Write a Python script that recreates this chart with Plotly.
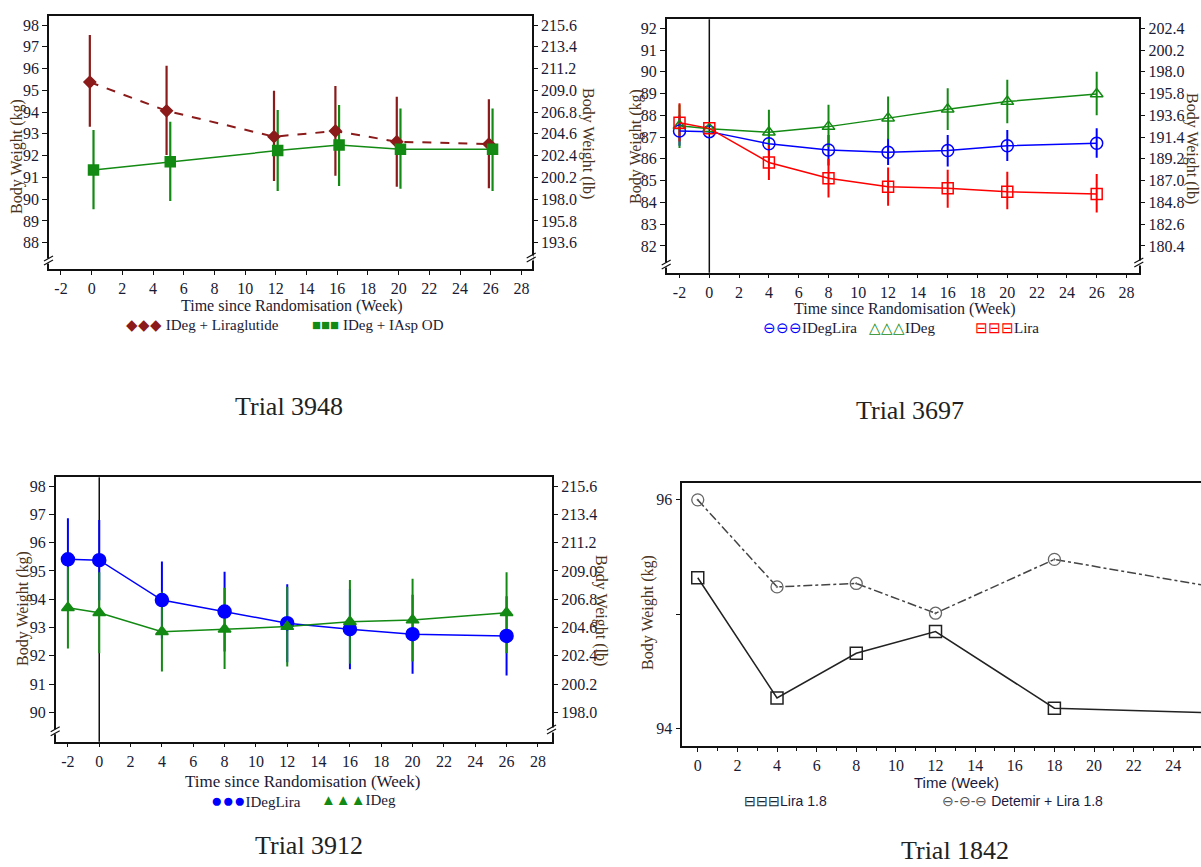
import plotly.graph_objects as go

W, H = 1201, 867

# ---------------- data ----------------
# Trial 3948
t1_weeks = [0, 5, 12, 16, 20, 26]
t1_lira_mean = [95.38, 94.06, 92.87, 93.13, 92.64, 92.53]
t1_lira_lo = [93.33, 92.03, 90.83, 91.08, 90.57, 90.50]
t1_lira_hi = [97.54, 96.13, 94.98, 95.20, 94.71, 94.59]
t1_iasp_mean = [91.34, 91.72, 92.23, 92.49, 92.29, 92.29]
t1_iasp_lo = [89.53, 89.92, 90.38, 90.60, 90.48, 90.38]
t1_iasp_hi = [93.18, 93.56, 94.10, 94.33, 94.17, 94.17]

# Trial 3697
t2_weeks = [-2, 0, 4, 8, 12, 16, 20, 26]
t2_idegl_mean = [87.28, 87.25, 86.69, 86.41, 86.30, 86.38, 86.60, 86.72]
t2_idegl_lo = [86.60, 87.25, 85.95, 85.70, 85.72, 85.65, 85.90, 86.05]
t2_idegl_hi = [88.00, 87.25, 87.40, 87.10, 86.95, 87.10, 87.33, 87.40]
t2_ideg_mean = [87.52, 87.38, 87.22, 87.48, 87.87, 88.28, 88.63, 88.98]
t2_ideg_lo = [86.50, 87.38, 86.30, 86.55, 86.90, 87.33, 87.64, 88.00]
t2_ideg_hi = [88.50, 87.38, 88.25, 88.48, 88.86, 89.24, 89.63, 90.00]
t2_lira_mean = [87.66, 87.40, 85.83, 85.11, 84.72, 84.65, 84.49, 84.39]
t2_lira_lo = [86.80, 87.40, 85.03, 84.22, 83.84, 83.75, 83.69, 83.53]
t2_lira_hi = [88.55, 87.40, 86.63, 86.00, 85.60, 85.50, 85.41, 85.30]

# Trial 3912
t3_weeks = [-2, 0, 4, 8, 12, 16, 20, 26]
t3_idegl_mean = [95.41, 95.38, 93.97, 93.56, 93.15, 92.94, 92.76, 92.70]
t3_idegl_lo = [93.96, 93.96, 92.61, 92.15, 91.77, 91.52, 91.36, 91.30]
t3_idegl_hi = [96.86, 96.80, 95.33, 94.97, 94.53, 94.36, 94.16, 94.10]
t3_ideg_mean = [93.70, 93.52, 92.85, 92.94, 93.03, 93.20, 93.26, 93.52]
t3_ideg_lo = [92.26, 92.09, 91.44, 91.53, 91.62, 91.72, 91.80, 92.09]
t3_ideg_hi = [95.14, 94.95, 94.26, 94.40, 94.44, 94.68, 94.72, 94.95]

# Trial 1842
t4_weeks = [0, 4, 8, 12, 18, 26]
t4_lira_mean = [95.32, 94.27, 94.66, 94.85, 94.18, 94.14]
t4_det_mean = [96.00, 95.24, 95.27, 95.01, 95.48, 95.24]

# tick labels
wk_ticks = [-2, 0, 2, 4, 6, 8, 10, 12, 14, 16, 18, 20, 22, 24, 26, 28]
wk_ticks4 = [0, 2, 4, 6, 8, 10, 12, 14, 16, 18, 20, 22, 24, 26]
kg_ticks1 = [88, 89, 90, 91, 92, 93, 94, 95, 96, 97, 98]
lb_ticks1 = ["193.6", "195.8", "198.0", "200.2", "202.4", "204.6", "206.8", "209.0", "211.2", "213.4", "215.6"]
kg_ticks2 = [82, 83, 84, 85, 86, 87, 88, 89, 90, 91, 92]
lb_ticks2 = ["180.4", "182.6", "184.8", "187.0", "189.2", "191.4", "193.6", "195.8", "198.0", "200.2", "202.4"]
kg_ticks3 = [90, 91, 92, 93, 94, 95, 96, 97, 98]
lb_ticks3 = ["198.0", "200.2", "202.4", "204.6", "206.8", "209.0", "211.2", "213.4", "215.6"]
kg_ticks4 = [94, 95, 96]
kg_labels4 = ["94", "", "96"]
KG_TO_LB = 2.2

# ---------------- style ----------------
SERIF = "Liberation Serif"
SANS = "Liberation Sans, Arial"
TICKC = "#1a1a33"
TITLEC = "#4a3320"
AXC = "#111111"
DARKRED = "#8B1A1A"
GREEN = "#138A13"
BLUE = "#0000FF"
RED = "#FF0000"


def px(x):
    return x / W


def py(y):
    return 1 - y / H


fig = go.Figure()


def err_trace(x, mean, lo, hi, color, width, xa, ya):
    return go.Scatter(
        x=x, y=mean, mode="markers",
        marker=dict(size=1, color="rgba(0,0,0,0)"),
        error_y=dict(type="data", symmetric=False,
                     array=[h - m for h, m in zip(hi, mean)],
                     arrayminus=[m - l for m, l in zip(mean, lo)],
                     color=color, thickness=width, width=0),
        xaxis=xa, yaxis=ya, showlegend=False, hoverinfo="skip")


def line_trace(x, y, color, symbol, size, xa, ya, dash="solid", lw=1.5, mlw=1.5, mcolor=None):
    return go.Scatter(
        x=x, y=y, mode="lines+markers",
        line=dict(color=color, width=lw, dash=dash),
        marker=dict(symbol=symbol, size=size, color=mcolor or color,
                    line=dict(color=mcolor or color, width=mlw)),
        xaxis=xa, yaxis=ya, showlegend=False)


# Panel 1
dodge = 0.12
x1r = [w - dodge for w in t1_weeks]
x1g = [w + dodge for w in t1_weeks]
fig.add_trace(err_trace(x1r, t1_lira_mean, t1_lira_lo, t1_lira_hi, DARKRED, 2.2, "x", "y"))
fig.add_trace(err_trace(x1g, t1_iasp_mean, t1_iasp_lo, t1_iasp_hi, GREEN, 2.2, "x", "y"))
fig.add_trace(line_trace(x1r, t1_lira_mean, DARKRED, "diamond", 9, "x", "y", dash="dash", lw=2))
fig.add_trace(line_trace(x1g, t1_iasp_mean, GREEN, "square", 10, "x", "y", lw=1.5))
fig.add_trace(go.Scatter(x=[None], y=[None], xaxis="x", yaxis="y2", showlegend=False))

# Panel 2
fig.add_trace(err_trace(t2_weeks, t2_idegl_mean, t2_idegl_lo, t2_idegl_hi, BLUE, 2, "x2", "y3"))
fig.add_trace(err_trace(t2_weeks, t2_ideg_mean, t2_ideg_lo, t2_ideg_hi, GREEN, 2, "x2", "y3"))
fig.add_trace(err_trace(t2_weeks, t2_lira_mean, t2_lira_lo, t2_lira_hi, RED, 2, "x2", "y3"))
fig.add_trace(line_trace(t2_weeks, t2_idegl_mean, BLUE, "circle-open", 12, "x2", "y3"))
fig.add_trace(line_trace(t2_weeks, t2_ideg_mean, GREEN, "triangle-up-open", 11, "x2", "y3"))
fig.add_trace(line_trace(t2_weeks, t2_lira_mean, RED, "square-open", 11, "x2", "y3"))
fig.add_trace(go.Scatter(x=[None], y=[None], xaxis="x2", yaxis="y4", showlegend=False))

# Panel 3
fig.add_trace(err_trace(t3_weeks, t3_idegl_mean, t3_idegl_lo, t3_idegl_hi, BLUE, 2, "x3", "y5"))
fig.add_trace(err_trace(t3_weeks, t3_ideg_mean, t3_ideg_lo, t3_ideg_hi, GREEN, 2, "x3", "y5"))
fig.add_trace(line_trace(t3_weeks, t3_idegl_mean, BLUE, "circle", 13, "x3", "y5"))
fig.add_trace(line_trace(t3_weeks, t3_ideg_mean, GREEN, "triangle-up", 11, "x3", "y5"))
fig.add_trace(go.Scatter(x=[None], y=[None], xaxis="x3", yaxis="y6", showlegend=False))

# Panel 4
fig.add_trace(line_trace(t4_weeks, t4_lira_mean, "#222222", "square-open", 12, "x4", "y7"))
fig.add_trace(line_trace(t4_weeks, t4_det_mean, "#444444", "circle-open-dot", 12, "x4", "y7",
                         dash="dashdot", mcolor="#666666", mlw=1.3))

# ---------------- axes ----------------
tickfont = dict(family=SERIF, size=16, color=TICKC)


def xax(domain, rng, tickvals, anchor):
    return dict(domain=domain, range=rng, anchor=anchor, tickmode="array", tickvals=tickvals,
                ticktext=[str(t) for t in tickvals], showline=True, mirror=True, linecolor=AXC,
                linewidth=1.5, ticks="outside", ticklen=4, tickwidth=1.2, tickcolor=AXC,
                showgrid=False, zeroline=False, tickfont=tickfont, automargin=False)


def yax(domain, rng, tickvals, anchor, ticktext=None):
    return dict(domain=domain, range=rng, anchor=anchor, tickmode="array", tickvals=tickvals,
                ticktext=ticktext or [str(t) for t in tickvals], showline=True, mirror=True,
                linecolor=AXC, linewidth=1.5, ticks="outside", ticklen=5, tickwidth=1.2,
                tickcolor=AXC, showgrid=False, zeroline=False, tickfont=tickfont, automargin=False)


def yax_lb(rng_kg, lb_labels, overlay, anchor):
    vals = [float(s) for s in lb_labels]
    return dict(range=[rng_kg[0] * KG_TO_LB, rng_kg[1] * KG_TO_LB], overlaying=overlay, side="right",
                anchor=anchor, tickmode="array", tickvals=vals, ticktext=lb_labels,
                showline=False, ticks="outside", ticklen=5, tickwidth=1.2, tickcolor=AXC,
                showgrid=False, zeroline=False, tickfont=tickfont, automargin=False)


P1 = dict(l=49, r=531.7, t=15.7, b=269, xr=[-2.78, 28.67], yr=[86.79, 98.43])
P2 = dict(l=666.7, r=1139.3, t=19.3, b=272.7, xr=[-2.86, 28.86], yr=[80.77, 92.41])
P3 = dict(l=55.7, r=552, t=477.3, b=741.7, xr=[-2.78, 28.9], yr=[88.96, 98.31])
P4 = dict(l=682.3, r=1201, t=482.7, b=746, xr=[-0.78, 25.4], yr=[93.85, 96.15])


def dx(P):
    return [px(P["l"]), min(1.0, px(P["r"]))]


def dy(P):
    return [py(P["b"]), py(P["t"])]


layout = dict(
    width=W, height=H, autosize=False,
    margin=dict(l=0, r=0, t=0, b=0),
    paper_bgcolor="white", plot_bgcolor="white", showlegend=False,
    xaxis=xax(dx(P1), P1["xr"], wk_ticks, "y"),
    yaxis=yax(dy(P1), P1["yr"], kg_ticks1, "x"),
    yaxis2=yax_lb(P1["yr"], lb_ticks1, "y", "x"),
    xaxis2=xax(dx(P2), P2["xr"], wk_ticks, "y3"),
    yaxis3=yax(dy(P2), P2["yr"], kg_ticks2, "x2"),
    yaxis4=yax_lb(P2["yr"], lb_ticks2, "y3", "x2"),
    xaxis3=xax(dx(P3), P3["xr"], wk_ticks, "y5"),
    yaxis5=yax(dy(P3), P3["yr"], kg_ticks3, "x3"),
    yaxis6=yax_lb(P3["yr"], lb_ticks3, "y5", "x3"),
    xaxis4=xax(dx(P4), P4["xr"], wk_ticks4, "y7"),
    yaxis7=yax(dy(P4), P4["yr"], kg_ticks4, "x4", ticktext=kg_labels4),
)
layout["yaxis7"]["mirror"] = False
layout["xaxis4"]["linewidth"] = 2.2
layout["xaxis4"]["minor"] = dict(dtick=1, ticklen=3, tickwidth=1, tickcolor=AXC, ticks="outside")
fig.update_layout(**layout)

# ---------------- shapes ----------------
shapes = []
# vertical reference lines at week 0
for xa, ya in (("x2", "y3"), ("x3", "y5")):
    shapes.append(dict(type="line", xref=xa, yref=ya + " domain", x0=0, x1=0, y0=0, y1=1,
                       line=dict(color="#111111", width=1.5), layer="below"))


def brk(x, y):
    out = [dict(type="line", xref="paper", yref="paper", x0=px(x), x1=px(x),
                y0=py(y + 2.5), y1=py(y - 2.5), line=dict(color="white", width=4))]
    for off in (0, 4):
        out.append(dict(type="line", xref="paper", yref="paper",
                        x0=px(x - 5), y0=py(y + off), x1=px(x + 4), y1=py(y + off - 5),
                        line=dict(color="#111111", width=1.2)))
    return out


for bx, by in ((49, 261), (531.7, 258), (666.7, 265), (1139.3, 263), (55.7, 731.7), (552, 730)):
    shapes += brk(bx, by)
fig.update_layout(shapes=shapes)

# ---------------- annotations ----------------
ann = []


def text(x, y, s, size=15, color=TICKC, angle=0, family=SERIF, xanchor="center"):
    ann.append(dict(x=px(x), y=py(y), xref="paper", yref="paper", text=s, showarrow=False,
                    textangle=angle, xanchor=xanchor, yanchor="middle",
                    font=dict(family=family, size=size, color=color)))


# axis titles
text(17, 157, "Body Weight (kg)", size=16, color=TITLEC, angle=-90)
text(588, 143, "Body Weight (lb)", size=16, color=TITLEC, angle=90)
text(292, 306, "Time since Randomisation (Week)", size=16)
text(636, 147, "Body Weight (kg)", size=16, color=TITLEC, angle=-90)
text(1192, 148, "Body Weight (lb)", size=16, color=TITLEC, angle=90)
text(905, 309, "Time since Randomisation (Week)", size=16)
text(23, 609, "Body Weight (kg)", size=16, color=TITLEC, angle=-90)
text(601, 610, "Body Weight (lb)", size=16, color=TITLEC, angle=90)
text(303, 781, "Time since Randomisation (Week)", size=17)
text(648, 613, "Body Weight (kg)", size=16, color=TITLEC, angle=-90)
text(956, 782, "Time (Week)", size=15, family=SANS, color="#1a1a40")

# legends
def sym(s, c, size=None):
    st = "color:%s" % c
    if size:
        st += ";font-size:%dpx" % size
    return "<span style='%s'>%s</span>" % (st, s)


text(124, 325, sym("◆◆◆", DARKRED) + " IDeg + Liraglutide", xanchor="left")
text(310, 325, sym("■■■", GREEN) + " IDeg + IAsp OD", xanchor="left")
text(761, 328, sym("⊖⊖⊖", BLUE) + "IDegLira", xanchor="left")
text(867, 328, sym("△△△", GREEN) + "IDeg", xanchor="left")
text(973, 328, sym("⊟⊟⊟", RED) + "Lira", xanchor="left")
text(209, 800, sym("●●●", BLUE, 19) + "IDegLira", xanchor="left")
text(319, 800, sym("▲▲▲", GREEN) + "IDeg", xanchor="left")
text(742, 801, sym("⊟⊟⊟", "#222222") + "Lira 1.8", family=SANS, size=14, xanchor="left", color="#1a1a40")
text(940, 801, sym("⊖-⊖-⊖", "#555555") + " Detemir + Lira 1.8", family=SANS, size=14, xanchor="left", color="#1a1a40")

# panel captions
text(289, 406, "Trial 3948", size=26, color="#222222")
text(910, 410, "Trial 3697", size=26, color="#222222")
text(309, 845, "Trial 3912", size=26, color="#222222")
text(955, 850, "Trial 1842", size=26, color="#222222")

fig.update_layout(annotations=ann)
fig.write_html("out.html", config={"displayModeBar": False},
               post_script="document.body.style.margin='0';document.body.style.overflow='hidden';")
